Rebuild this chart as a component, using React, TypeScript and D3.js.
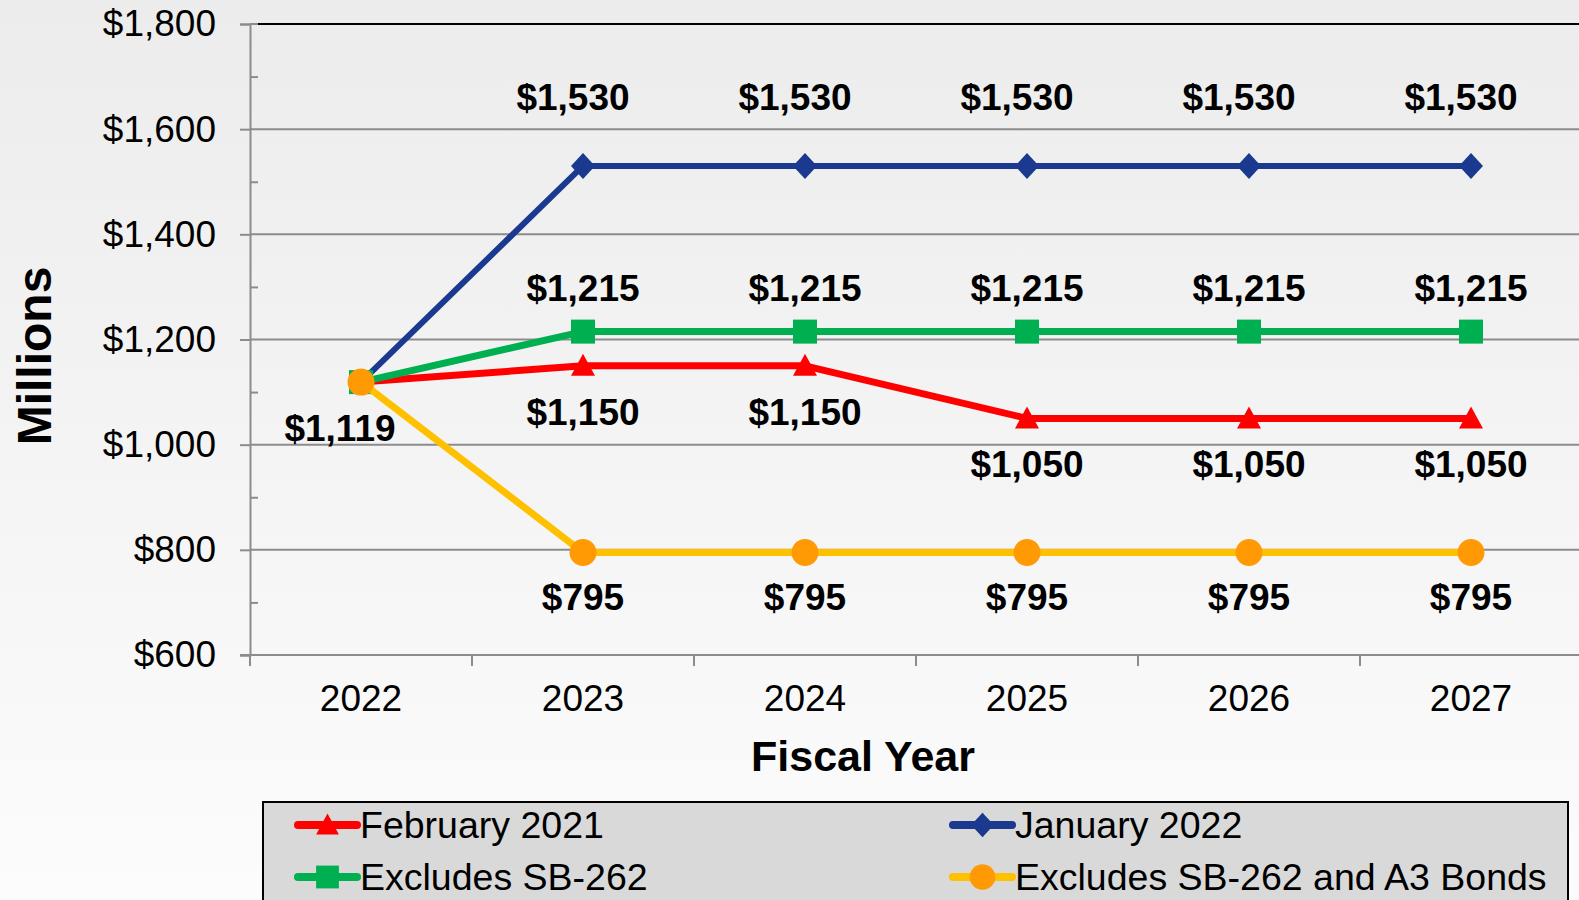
import React, { useEffect, useRef } from 'react';
import * as d3 from 'd3';

// fiscal years on the x axis
const years = ['2022', '2023', '2024', '2025', '2026', '2027'];

// series values ($ millions)
const feb2021 = [1119, 1150, 1150, 1050, 1050, 1050];
const jan2022 = [1119, 1530, 1530, 1530, 1530, 1530];
const exclSB262 = [1119, 1215, 1215, 1215, 1215, 1215];
const exclSB262A3 = [1119, 795, 795, 795, 795, 795];

const seriesNames = ['February 2021', 'January 2022', 'Excludes SB-262', 'Excludes SB-262 and A3 Bonds'];

const yTicks = [600, 800, 1000, 1200, 1400, 1600, 1800];
const yMinorTicks = [700, 900, 1100, 1300, 1500, 1700];

const W = 1579;
const H = 900;
const FONT = '"Liberation Sans", Arial, sans-serif';

function markerPath(kind: string, legend: boolean) {
  const s = legend ? 0.95 : 1;
  if (kind === 'triangle') {
    return `M0,${-12 * s}L${12 * s},${10 * s}L${-12 * s},${10 * s}Z`;
  }
  if (kind === 'diamond') {
    return `M0,${-13 * s}L${12 * s},0L0,${13 * s}L${-12 * s},0Z`;
  }
  if (kind === 'square') {
    return `M${-12 * s},${-12 * s}H${12 * s}V${12 * s}H${-12 * s}Z`;
  }
  return d3.symbol().type(d3.symbolCircle).size(Math.PI * 13.5 * 13.5 * s * s)() as string;
}

export default function App() {
  const ref = useRef<SVGSVGElement | null>(null);

  useEffect(() => {
    const svg = d3.select(ref.current);
    svg.selectAll('*').remove();

    // dy = label baseline offset from the point, dx = shift of all labels, dx0 = extra shift of first label
    const series = [
      { name: seriesNames[0], values: feb2021, line: '#FF0000', fill: '#FF0000', marker: 'triangle', dy: 59, dx: 0, dx0: -21, from: 0, width: 7 },
      { name: seriesNames[1], values: jan2022, line: '#1B3A8F', fill: '#1B3A8F', marker: 'diamond', dy: -56, dx: -10, dx0: 0, from: 1, width: 6 },
      { name: seriesNames[2], values: exclSB262, line: '#00B050', fill: '#00B050', marker: 'square', dy: -31, dx: 0, dx0: 0, from: 1, width: 7 },
      { name: seriesNames[3], values: exclSB262A3, line: '#FFC000', fill: '#FF9A05', marker: 'circle', dy: 58, dx: 0, dx0: 0, from: 1, width: 7 },
    ];

    const defs = svg.append('defs');
    const grad = defs.append('linearGradient').attr('id', 'bg').attr('x1', 0).attr('y1', 0).attr('x2', 0).attr('y2', 1);
    grad.append('stop').attr('offset', '0%').attr('stop-color', '#ECECEC');
    grad.append('stop').attr('offset', '100%').attr('stop-color', '#FCFCFC');
    svg.append('rect').attr('width', W).attr('height', H).attr('fill', 'url(#bg)');

    const x = d3.scaleBand().domain(years).range([250, 250 + 6 * 222]).paddingInner(0).paddingOuter(0);
    const y = d3.scaleLinear().domain([600, 1800]).range([655, 24]);
    const cx = (d: string) => (x(d) as number) + x.bandwidth() / 2;

    // gridlines
    svg.append('g')
      .selectAll('line')
      .data(yTicks.filter(d => d > 600))
      .enter().append('line')
      .attr('x1', 250).attr('x2', W)
      .attr('y1', d => y(d)).attr('y2', d => y(d))
      .attr('stroke', '#8C8C8C').attr('stroke-width', 2);

    // top border of the plot area
    svg.append('line')
      .attr('x1', 258).attr('x2', W).attr('y1', y(1800)).attr('y2', y(1800))
      .attr('stroke', '#000').attr('stroke-width', 2);

    // y axis
    const yAxis = d3.axisLeft(y).tickValues(yTicks).tickSize(10).tickPadding(24)
      .tickFormat(d => '$' + d3.format(',')(d as number));
    const gy = svg.append('g').attr('transform', 'translate(250,0)').call(yAxis);
    gy.select('.domain').attr('stroke', '#8C8C8C').attr('stroke-width', 2);
    gy.selectAll('.tick line').attr('stroke', '#8C8C8C').attr('stroke-width', 2);
    gy.selectAll('.tick text').attr('fill', '#000').style('font-family', FONT).style('font-size', '37px');

    const yMinor = d3.axisRight(y).tickValues(yMinorTicks).tickSize(8).tickFormat(() => '');
    const gym = svg.append('g').attr('transform', 'translate(250,0)').call(yMinor);
    gym.select('.domain').remove();
    gym.selectAll('.tick line').attr('stroke', '#8C8C8C').attr('stroke-width', 2);

    // x axis
    const xAxis = d3.axisBottom(x).tickSize(0).tickPadding(30);
    const gx = svg.append('g').attr('transform', 'translate(0,655)').call(xAxis);
    gx.select('.domain').remove();
    gx.selectAll('.tick text').attr('fill', '#000').style('font-family', FONT).style('font-size', '37px');
    svg.append('line').attr('x1', 240).attr('x2', W).attr('y1', 655).attr('y2', 655)
      .attr('stroke', '#8C8C8C').attr('stroke-width', 2);
    svg.append('g')
      .selectAll('line')
      .data(d3.range(years.length + 1))
      .enter().append('line')
      .attr('x1', i => 250 + i * x.step()).attr('x2', i => 250 + i * x.step())
      .attr('y1', 655).attr('y2', 666)
      .attr('stroke', '#8C8C8C').attr('stroke-width', 2);

    // axis titles
    svg.append('text')
      .attr('x', 863).attr('y', 771)
      .attr('text-anchor', 'middle')
      .style('font-family', FONT).style('font-size', '43px').style('font-weight', 'bold')
      .text('Fiscal Year');
    svg.append('text')
      .attr('transform', 'translate(51,356) rotate(-90)')
      .attr('text-anchor', 'middle')
      .style('font-family', FONT).style('font-size', '48px').style('font-weight', 'bold')
      .text('Millions');

    // lines and markers
    const line = d3.line<number>().x((d, i) => cx(years[i])).y(d => y(d));
    series.forEach(s => {
      svg.append('path')
        .attr('d', line(s.values) as string)
        .attr('fill', 'none').attr('stroke', s.line).attr('stroke-width', s.width)
        .attr('stroke-linejoin', 'round');
      svg.append('g')
        .selectAll('path')
        .data(s.values)
        .enter().append('path')
        .attr('transform', (d, i) => `translate(${cx(years[i])},${y(d)})`)
        .attr('d', markerPath(s.marker, false))
        .attr('fill', s.fill);
    });

    // data labels
    series.forEach(s => {
      svg.append('g')
        .selectAll('text')
        .data(s.values.map((v, i) => ({ v, i })).filter(d => d.i >= s.from))
        .enter().append('text')
        .attr('x', d => cx(years[d.i]) + s.dx + (d.i === 0 ? s.dx0 : 0))
        .attr('y', d => y(d.v) + s.dy)
        .attr('text-anchor', 'middle')
        .style('font-family', FONT).style('font-size', '37px').style('font-weight', 'bold')
        .text(d => '$' + d3.format(',')(d.v));
    });

    // legend
    const lg = svg.append('g');
    lg.append('rect')
      .attr('x', 263).attr('y', 802).attr('width', 1568 - 263).attr('height', 120)
      .attr('fill', '#D9D9D9').attr('stroke', '#000').attr('stroke-width', 2);
    const item = lg.selectAll('.legend')
      .data(series)
      .enter().append('g')
      .attr('class', 'legend')
      .attr('transform', (d, i) => `translate(${i % 2 === 0 ? 298 : 953},${i < 2 ? 825 : 877})`);
    item.append('line')
      .attr('x1', 0).attr('x2', 59).attr('y1', 0).attr('y2', 0)
      .attr('stroke', d => d.line).attr('stroke-width', 8).attr('stroke-linecap', 'round');
    item.append('path')
      .attr('transform', 'translate(29.5,0)')
      .attr('d', d => markerPath(d.marker, true))
      .attr('fill', d => d.fill);
    item.append('text')
      .attr('x', 62).attr('y', 13)
      .style('font-family', FONT).style('font-size', '37.5px')
      .text(d => d.name);
  }, []);

  return (
    <div style={{ position: 'absolute', left: 0, top: 0 }}>
      <svg ref={ref} width={W} height={H} style={{ display: 'block' }} />
    </div>
  );
}
